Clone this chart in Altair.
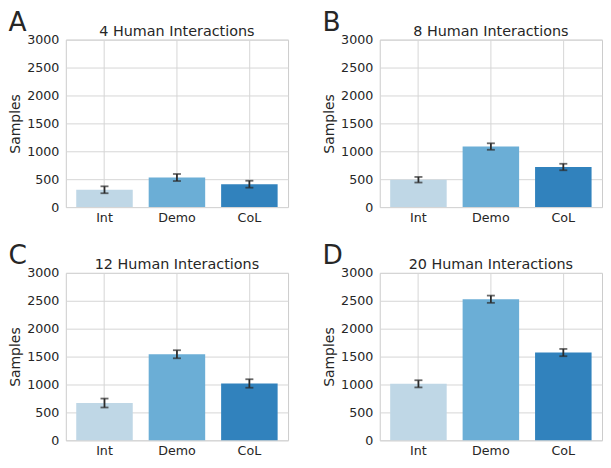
import altair as alt
import pandas as pd

methods = ["Int", "Demo", "CoL"]
colors = ["#bfd7e6", "#6baed6", "#3182bd"]
y_ticks = [0, 500, 1000, 1500, 2000, 2500, 3000]

letters = ["A", "B", "C", "D"]
titles = ["4 Human Interactions", "8 Human Interactions",
          "12 Human Interactions", "20 Human Interactions"]
values = [
    [310, 530, 410],
    [490, 1085, 718],
    [668, 1542, 1018],
    [1012, 2528, 1572],
]
errors = [
    [62, 63, 62],
    [50, 58, 58],
    [80, 72, 76],
    [64, 65, 65],
]

FONT = "DejaVu Sans"
TEXT = "#262626"
ERR = "#2b2b2b"
W, H = 223, 168

x_scale = alt.Scale(domain=methods, paddingInner=0.22, paddingOuter=0.144)
x_axis = alt.Axis(title=None, labelAngle=0, ticks=False, domain=False,
                  grid=True, bandPosition=0.5, labelPadding=4,
                  labelFont=FONT, labelFontSize=12.7, labelColor=TEXT,
                  gridColor="#d6d6d6", gridWidth=1)
y_scale = alt.Scale(domain=[0, 3000], nice=False)
y_axis = alt.Axis(values=y_ticks, format="d", labelOverlap=False,
                  title="Samples", ticks=False,
                  domain=False, labelPadding=7, titlePadding=4,
                  labelFont=FONT, labelFontSize=12.7, labelColor=TEXT,
                  titleFont=FONT, titleFontSize=14, titleColor=TEXT,
                  titleFontWeight="normal",
                  gridColor="#d6d6d6", gridWidth=1)


def X():
    return alt.X("method:N", sort=methods, scale=x_scale, axis=x_axis)


def Y(field):
    return alt.Y(field, scale=y_scale, axis=y_axis)


def panel(letter, title, vals, errs):
    df = pd.DataFrame({"method": methods, "value": vals, "err": errs})
    base = alt.Chart(df)
    bars = base.mark_bar().encode(
        x=X(), y=Y("value:Q"),
        color=alt.Color("method:N", scale=alt.Scale(domain=methods, range=colors),
                        legend=None),
    )
    eb = base.transform_calculate(
        lo="datum.value - datum.err", hi="datum.value + datum.err"
    )
    rule = eb.mark_rule(color=ERR, strokeWidth=1.8).encode(
        x=X(), y=Y("lo:Q"), y2="hi:Q"
    )
    cap_lo = eb.mark_tick(color=ERR, size=8, thickness=1.8).encode(
        x=X(), y=Y("lo:Q")
    )
    cap_hi = eb.mark_tick(color=ERR, size=8, thickness=1.8).encode(
        x=X(), y=Y("hi:Q")
    )
    lab = alt.Chart(pd.DataFrame({"t": [letter]})).mark_text(
        align="left", baseline="alphabetic", fontSize=26.5, font=FONT, color=TEXT
    ).encode(text="t:N", x=alt.value(-57.5), y=alt.value(-9))
    ttl = alt.Chart(pd.DataFrame({"t": [title]})).mark_text(
        align="center", baseline="alphabetic", fontSize=14.4, font=FONT, color=TEXT
    ).encode(text="t:N", x=alt.value(W / 2), y=alt.value(-4))
    return alt.layer(bars, rule, cap_lo, cap_hi, lab, ttl).properties(width=W, height=H)


panels = [panel(letters[i], titles[i], values[i], errors[i]) for i in range(4)]

row1 = alt.hconcat(panels[0], panels[1], spacing=33)
row2 = alt.hconcat(panels[2], panels[3], spacing=33)
chart = alt.vconcat(row1, row2, spacing=17).properties(
    padding={"left": 0, "top": 0, "right": 0, "bottom": 0}
).configure_view(
    stroke="#cccccc", strokeWidth=1
)

chart.save("out.html", embed_options={"renderer": "svg", "actions": False})
